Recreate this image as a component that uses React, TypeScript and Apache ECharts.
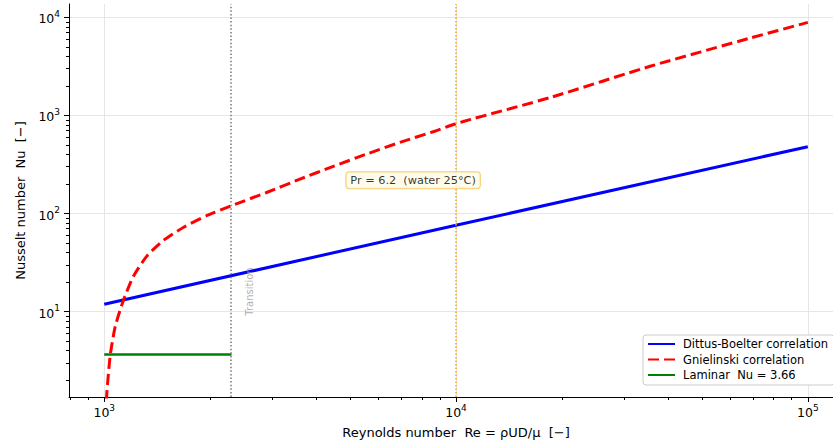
import React, { useEffect, useRef } from "react";
import * as echarts from "echarts";

// ---- data ----
const reDittus = [1000, 10000, 100000];
const nuDittus = [11.9, 76, 480];

const reGnielinski = [1004, 1010, 1018, 1040, 1075, 1134, 1212, 1323, 1475, 1682, 1960, 2299, 2905, 3614, 4495, 5595, 6962, 8658, 10000, 11010, 18600, 35830, 68950, 100000];
const nuGnielinski = [0.4, 0.95, 1.55, 3.6, 7.1, 13.1, 23.1, 37.0, 53.5, 72.5, 95.5, 120, 164.8, 225.3, 303.8, 405.9, 534.6, 686, 822.6, 910, 1527, 3184, 6166, 8860];

const reLaminar = [1000, 2300];
const nuLaminar = [3.66, 3.66];

const reTransition = 2300;
const reTurbulent = 10000;

const transitionLabelAt = [2583, 9.1];
const prNoteAt = [7550, 217.8];

const xRange = [794, 125900];
const yRange = [1.35, 13650];

const xMajorTicks = [1000, 10000, 100000];
const xMinorTicks = [800, 900, 2000, 3000, 4000, 5000, 6000, 7000, 8000, 9000, 20000, 30000, 40000, 50000, 60000, 70000, 80000, 90000];
const yMajorTicks = [10, 100, 1000, 10000];
const yMinorTicks = [2, 3, 4, 5, 6, 7, 8, 9, 20, 30, 40, 50, 60, 70, 80, 90, 200, 300, 400, 500, 600, 700, 800, 900, 2000, 3000, 4000, 5000, 6000, 7000, 8000, 9000];

const seriesNames = ["Dittus-Boelter correlation", "Gnielinski correlation", "Laminar  Nu = 3.66"];
const xTitle = "Reynolds number  Re = ρUD/μ  [−]";
const yTitle = "Nusselt number  Nu  [−]";
const transitionText = "Transition";
const prText = "Pr = 6.2  (water 25°C)";

const FONT = "DejaVu Sans";
const lg = (v: number) => Math.log10(v);
const pts = (xs: number[], ys: number[]) => xs.map((x, i) => [lg(x), lg(ys[i])]);

const rich = {
  b: { fontSize: 12.5, fontFamily: FONT, color: "#000", lineHeight: 16, verticalAlign: "bottom" },
  s: { fontSize: 9, fontFamily: FONT, color: "#000", lineHeight: 9, verticalAlign: "top" },
};
const supFmt = (v: number) => `{b|10}{s|${Math.round(v)}}`;

export default function App() {
  const ref = useRef<HTMLDivElement>(null);
  useEffect(() => {
    if (!ref.current) return;
    const chart = echarts.init(ref.current, undefined, { renderer: "svg" });
    const tickStyle = { color: "#000", width: 1 };
    const option: any = {
      animation: false,
      backgroundColor: "#fff",
      textStyle: { fontFamily: FONT },
      grid: { left: 69, top: 4, right: 7, bottom: 49, containLabel: false },
      legend: {
        data: seriesNames,
        orient: "vertical",
        left: 643,
        top: 335,
        itemWidth: 27,
        itemHeight: 14,
        itemGap: 3.5,
        padding: [3, 6, 4, 4],
        backgroundColor: "#fff",
        borderColor: "#cccccc",
        borderWidth: 1,
        borderRadius: 3,
        itemStyle: { opacity: 0 },
        textStyle: { fontSize: 11.5, fontFamily: FONT, color: "#000", padding: [0, 0, 0, 3] },
        selectedMode: false,
      },
      xAxis: [
        {
          type: "value",
          min: lg(xRange[0]),
          max: lg(xRange[1]),
          position: "bottom",
          axisLine: { show: true, onZero: false, lineStyle: tickStyle },
          axisTick: { show: true, length: 5, customValues: xMajorTicks.map(lg), lineStyle: tickStyle },
          axisLabel: { show: true, customValues: xMajorTicks.map(lg), formatter: supFmt, rich, margin: 6 },
          splitLine: { show: true, lineStyle: { color: "#e6e6e6", width: 1 } },
          name: xTitle,
          nameLocation: "middle",
          nameGap: 29,
          nameTextStyle: { fontSize: 13, fontFamily: FONT, color: "#000" },
        },
        {
          type: "value",
          min: lg(xRange[0]),
          max: lg(xRange[1]),
          position: "bottom",
          axisLine: { show: false },
          axisTick: { show: true, length: 3, customValues: xMinorTicks.map(lg), lineStyle: tickStyle },
          axisLabel: { show: false },
          splitLine: { show: false },
        },
      ],
      yAxis: [
        {
          type: "value",
          min: lg(yRange[0]),
          max: lg(yRange[1]),
          position: "left",
          axisLine: { show: true, onZero: false, lineStyle: tickStyle },
          axisTick: { show: true, length: 5, customValues: yMajorTicks.map(lg), lineStyle: tickStyle },
          axisLabel: { show: true, customValues: yMajorTicks.map(lg), formatter: supFmt, rich, margin: 9 },
          splitLine: { show: true, lineStyle: { color: "#e6e6e6", width: 1 } },
          name: yTitle,
          nameLocation: "middle",
          nameGap: 42,
          nameRotate: 90,
          nameTextStyle: { fontSize: 13, fontFamily: FONT, color: "#000" },
        },
        {
          type: "value",
          min: lg(yRange[0]),
          max: lg(yRange[1]),
          position: "left",
          axisLine: { show: false },
          axisTick: { show: true, length: 3, customValues: yMinorTicks.map(lg), lineStyle: tickStyle },
          axisLabel: { show: false },
          splitLine: { show: false },
        },
      ],
      series: [
        {
          name: "refLines",
          type: "line",
          data: [],
          silent: true,
          z: 1,
          markLine: {
            silent: true,
            symbol: "none",
            label: { show: false },
            animation: false,
            data: [
              { xAxis: lg(reTransition), lineStyle: { color: "#777777", width: 1.5, type: [1.5, 2.1] } },
              { xAxis: lg(reTurbulent), lineStyle: { color: "#ffa500", width: 1.5, type: [1.5, 2] } },
            ],
          },
        },
        {
          name: seriesNames[0],
          type: "line",
          data: pts(reDittus, nuDittus),
          symbol: "none",
          lineStyle: { color: "#0000ff", width: 3 },
          itemStyle: { color: "#0000ff" },
          z: 3,
        },
        {
          name: seriesNames[2],
          type: "line",
          data: pts(reLaminar, nuLaminar),
          symbol: "none",
          lineStyle: { color: "#008000", width: 2.5 },
          itemStyle: { color: "#008000" },
          z: 3,
        },
        {
          name: seriesNames[1],
          type: "line",
          data: pts(reGnielinski, nuGnielinski),
          symbol: "none",
          smooth: 0.2,
          lineStyle: { color: "#ff0000", width: 3, type: [11, 5] },
          itemStyle: { color: "#ff0000" },
          z: 4,
        },
        {
          name: "transitionLabel",
          type: "scatter",
          silent: true,
          symbolSize: 0,
          data: [pts([transitionLabelAt[0]], [transitionLabelAt[1]])[0]],
          label: {
            show: true,
            position: "inside",
            formatter: transitionText,
            rotate: 90,
            align: "left",
            verticalAlign: "middle",
            fontSize: 10,
            fontFamily: FONT,
            color: "#9a9a9a",
          },
          z: 5,
        },
        {
          name: "prNote",
          type: "scatter",
          silent: true,
          symbolSize: 0,
          data: [pts([prNoteAt[0]], [prNoteAt[1]])[0]],
          label: {
            show: true,
            position: "inside",
            formatter: prText,
            align: "center",
            verticalAlign: "middle",
            fontSize: 11.3,
            fontFamily: FONT,
            color: "#000",
            backgroundColor: "#fffbe6",
            borderColor: "#f7c04a",
            borderWidth: 1,
            borderRadius: 3,
            padding: [3, 4, 2, 4],
          },
          z: 6,
        },
      ],
    };
    chart.setOption(option);
    return () => chart.dispose();
  }, []);
  return (
    <div style={{ position: "absolute", left: 0, top: 0, width: 833, height: 446, overflow: "hidden" }}>
      <div ref={ref} style={{ width: 850, height: 446 }} />
    </div>
  );
}
